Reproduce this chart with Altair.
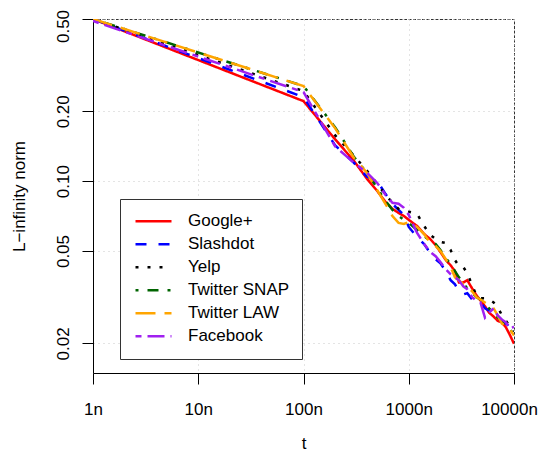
import altair as alt
import pandas as pd

# time steps (in units of n)
t_values = [1, 100, 200, 300, 400, 500, 600, 700, 800, 900, 1000,
            1200, 1400, 1600, 1800, 2000, 2250, 2500, 2750, 3000,
            3300, 3600, 4000, 4400, 4800, 5300, 5800, 6400, 7000,
            7700, 8400, 9200, 10000]

google_plus = [0.5, 0.2213, 0.1514, 0.1227, 0.1025, 0.0909, 0.0815, 0.0760, 0.0730, 0.0708, 0.0681,
               0.0641, 0.0592, 0.0563, 0.0530, 0.0495, 0.0457, 0.0434, 0.0409, 0.0366,
               0.0366, 0.0374, 0.0345, 0.0322, 0.0306, 0.0289, 0.0271, 0.0261, 0.0250,
               0.0246, 0.0234, 0.0216, 0.0199]
slashdot = [0.5, 0.2304, 0.1426, 0.1203, 0.1046, 0.1005, 0.0882, 0.0799, 0.0752, 0.0715, 0.0635,
            0.0574, 0.0536, 0.0490, 0.0461, 0.0443, 0.0409, 0.0374, 0.0359, 0.0335,
            0.0325, 0.0329, 0.0309, 0.0303, 0.0300, 0.0283, 0.0277, 0.0269, 0.0256,
            0.0248, 0.0243, 0.0236, 0.0229]
yelp = [0.5, 0.2446, 0.1575, 0.1290, 0.1110, 0.0975, 0.0874, 0.0807, 0.0760, 0.0745, 0.0738,
        0.0723, 0.0641, 0.0586, 0.0563, 0.0547, 0.0541, 0.0505, 0.0457, 0.0430,
        0.0426, 0.0401, 0.0356, 0.0322, 0.0313, 0.0313, 0.0309, 0.0300, 0.0286,
        0.0264, 0.0250, 0.0236, 0.0225]
twitter_snap = [0.5, 0.2571, 0.1706, 0.1277, 0.1088, 0.0937, 0.0823, 0.0752, 0.0708, 0.0681, 0.0661,
                0.0616, 0.0580, 0.0552, 0.0536, 0.0505, 0.0466, 0.0439, 0.0409, 0.0385,
                0.0363, 0.0345, 0.0332, 0.0316, 0.0309, 0.0297, 0.0283, 0.0271, 0.0258,
                0.0250, 0.0241, 0.0229, 0.0218]
twitter_law = [0.5, 0.2571, 0.1689, 0.1265, 0.1088, 0.0918, 0.0799, 0.0708, 0.0661, 0.0654, 0.0667,
               0.0635, 0.0592, 0.0541, 0.0525, 0.0500, 0.0461, 0.0426, 0.0385, 0.0374,
               0.0359, 0.0352, 0.0335, 0.0316, 0.0309, 0.0300, 0.0292, 0.0283, 0.0264,
               0.0243, 0.0238, 0.0229, 0.0216]
facebook = [0.490, 0.2421, 0.1412, 0.1203, 0.1088, 0.0985, 0.0874, 0.0807, 0.0799, 0.0768, 0.0715,
            0.0598, 0.0536, 0.0495, 0.0475, 0.0448, 0.0417, 0.0397, 0.0385, 0.0374,
            0.0352, 0.0342, 0.0316, 0.0306, 0.0300, 0.0258, 0.0271, 0.0283, 0.0264,
            0.0253, 0.0246, 0.0231, 0.0236]

series_names = ["Google+", "Slashdot", "Yelp", "Twitter SNAP", "Twitter LAW", "Facebook"]
series_values = [google_plus, slashdot, yelp, twitter_snap, twitter_law, facebook]
series_colors = ["#FF0000", "#0000FF", "#000000", "#006400", "#FFA500", "#A020F0"]
series_dashes = [[1, 0], [11, 12], [3, 9], [3, 9, 11, 9], [20, 9], [6, 6, 17, 6]]

x_ticks = [1, 10, 100, 1000, 10000]
y_ticks = [0.02, 0.05, 0.1, 0.2, 0.5]

rows = []
for name, vals in zip(series_names, series_values):
    for t, v in zip(t_values, vals):
        rows.append({"t": t, "v": v, "series": name})
df = pd.DataFrame(rows)

FONT = "Liberation Sans"

chart = alt.Chart(df).mark_line(strokeWidth=2.5, clip=True).encode(
    x=alt.X("t:Q",
            scale=alt.Scale(type="log", domain=[1, 10000], nice=False),
            axis=alt.Axis(values=x_ticks, labelExpr="datum.value + 'n'", title="t",
                          labelPadding=17, labelFlush=False, labelOverlap=False,
                          labelOffset={"condition": {"test": "datum.value > 5000", "value": -5},
                                       "value": 0},
                          titleX=210.5, titleY=75, titleAlign="center",
                          titleBaseline="alphabetic")),
    y=alt.Y("v:Q",
            scale=alt.Scale(type="log", domain=[0.0149, 0.5], nice=False, zero=False),
            axis=alt.Axis(values=y_ticks, format=".2f", title="L\u2212infinity norm",
                          labelAngle=270, labelAlign="center", labelBaseline="alphabetic",
                          labelPadding=14, labelFlush=False, labelOverlap=False,
                          labelOffset={"condition": {"test": "datum.value > 0.4", "value": 7},
                                       "value": 0},
                          titleAngle=270, titleX=-69, titleY=177, titleAlign="center",
                          titleBaseline="alphabetic")),
    color=alt.Color("series:N", sort=series_names,
                    scale=alt.Scale(domain=series_names, range=series_colors),
                    title=None),
    strokeDash=alt.StrokeDash("series:N", sort=series_names,
                              scale=alt.Scale(domain=series_names, range=series_dashes),
                              title=None),
).properties(
    width=421, height=354,
    autosize=alt.AutoSizeParams(type="none"),
    padding={"left": 85, "top": 11, "right": 24, "bottom": 84},
).configure_view(
    stroke="#333333", strokeWidth=1, strokeDash=[3, 1.5]
).configure_axis(
    domainColor="black", domainWidth=1, tickColor="black", tickWidth=1, tickSize=11,
    labelFont=FONT, labelFontSize=17, labelColor="black",
    titleFont=FONT, titleFontSize=17, titleColor="black", titleFontWeight="normal",
    grid=True, gridColor="#C8C8C8", gridDash=[1, 4], gridWidth=1,
).configure_legend(
    orient="none", legendX=27, legendY=180,
    strokeColor="#333333", fillColor="white", padding=12,
    symbolType="stroke", symbolSize=1296, symbolStrokeWidth=2.5,
    labelFont=FONT, labelFontSize=17, labelColor="black",
    clipHeight=20.5, rowPadding=2.0, symbolOffset=2, labelOffset=15,
)

chart.save("out.html", embed_options={"renderer": "svg", "actions": False})
